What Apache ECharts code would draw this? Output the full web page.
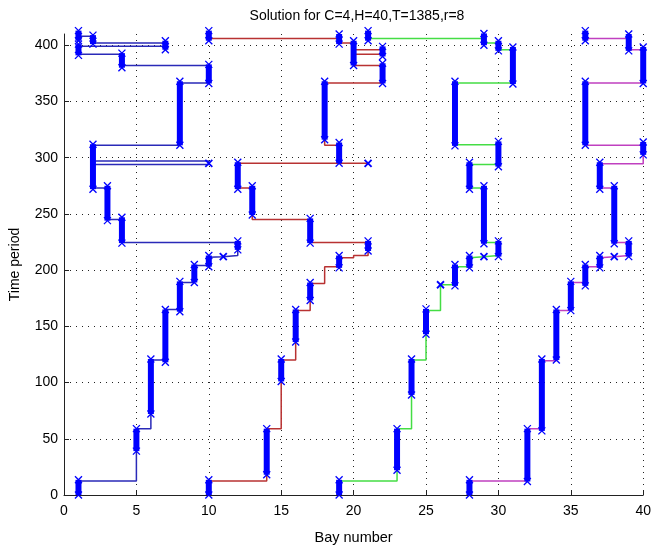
<!DOCTYPE html>
<html>
<head>
<meta charset="utf-8">
<script src="https://cdn.jsdelivr.net/npm/echarts@6/dist/echarts.min.js"></script>
<style>html,body{margin:0;padding:0;background:#fff}#c{width:654px;height:550px}</style>
</head>
<body>
<div id="c"></div>
<script>
// ---- Data (bay number, time period) ----
const titleText = 'Solution for C=4,H=40,T=1385,r=8';
const xTicks = [0, 5, 10, 15, 20, 25, 30, 35, 40];
const yTicks = [0, 50, 100, 150, 200, 250, 300, 350, 400];

// Crane 1 (blue)
const crane1Path = [[1,0],[1,12.5],[5,12.5],[5,39],[5,59],[6,59],[6,72],[6,120],[7,120],[7,165],[8,165],[8,189],[9,189],[9,204],[10,204],[10,211.5],[11,212],[12,213],[12,218],[12,224.5],[4,224.5],[4,245],[3,245],[3,273],[2,273],[2,294],[10,294],[10,297],[2,297],[2,311],[8,311],[8,366.5],[10,366.5],[10,382],[4,382],[4,392],[1,392],[1,399],[7,399],[7,402],[2,402],[2,408],[1,408],[1,413]];
const crane1Bars = [[1,0,13.5],[5,39,59],[6,72,121],[7,118,165],[8,163,190],[9,189,205],[10,203,213],[12,218,226],[4,224,247],[3,244,275],[2,272,312],[8,311,368],[10,366,383],[4,380,393],[1,391,401],[7,396,404],[2,401,409],[1,404,413]];
const crane1Cross = [[11,212],[10,295]];

// Crane 2 (red)
const crane2Path = [[10,0],[10,12.5],[14,12.5],[14,59],[15,59],[15,120],[16,120],[16,164],[17,164],[17,188],[18,188],[18,203],[19,203],[19,211],[20,211],[20,213],[21,213],[21,224.5],[17,224.5],[17,245],[13,245],[13,273],[12,273],[12,295],[21,295],[19,295],[19,311],[18,311],[18,366.5],[22,366.5],[22,382],[20,382],[20,392],[22,392],[22,396],[20,396],[20,402],[19,402],[19,406],[10,406],[10,413]];
const crane2Bars = [[10,0,13.5],[14,18,59],[15,101,121],[16,136,165],[17,173,189],[19,202,213],[21,217,226],[17,224,246],[13,249,275],[12,272,296],[19,295,313.5],[18,316,368],[22,366,384],[20,382,404],[22,390,399],[19,401,410],[10,404,413]];
const crane2Cross = [[21,295]];

// Crane 3 (green)
const crane3Path = [[19,0],[19,12.5],[23,12.5],[23,59],[24,59],[24,120],[25,120],[25,164],[26,164],[26,187],[27,187],[27,203],[28,203],[28,211],[29,212],[30,213],[30,224.5],[29,224.5],[29,273],[28,273],[28,294],[30,294],[30,311.5],[27,311.5],[27,366.5],[31,366.5],[31,396],[30,396],[30,402],[29,402],[29,406],[21,406],[21,413]];
const crane3Bars = [[19,0,13.5],[23,22,59],[24,89,121],[25,143,165.5],[27,186,205],[28,202,213],[30,212,226],[29,223.5,275],[28,272,296],[30,292,314.5],[27,310.5,368],[31,365.5,398.5],[30,395,404],[29,400,410.5],[21,404,413]];
const crane3Cross = [[26,187],[29,212]];

// Crane 4 (magenta)
const crane4Path = [[28,0],[28,12.5],[32,12.5],[32,59],[33,59],[33,119.5],[34,119.5],[34,164],[35,164],[35,189],[36,189],[36,203],[37,203],[37,211],[38,212],[39,213],[39,224.5],[38,224.5],[38,273],[37,273],[37,294.5],[40,294.5],[40,311],[36,311],[36,366.5],[40,366.5],[40,396],[39,396],[39,406],[36,406],[36,413]];
const crane4Bars = [[28,0,13.5],[32,12,59],[33,57,121],[34,120,165],[35,164,190],[36,186,205],[37,202,213],[39,212,226],[38,223.5,275],[37,272,296],[40,302.5,314],[36,311,368],[40,366,398.5],[39,395,410],[36,404,413]];
const crane4Cross = [[38,212]];

const pathColors = ['#2a2ab8', '#b83232', '#44dd44', '#c040c0'];
const barColor = '#0000ff';
const FONT = '"Liberation Sans", Arial, sans-serif';

const paths = [crane1Path, crane2Path, crane3Path, crane4Path];
const barsAll = [].concat(crane1Bars, crane2Bars, crane3Bars, crane4Bars);
const crossAll = [].concat(crane1Cross, crane2Cross, crane3Cross, crane4Cross);

function xMark(p, m, lw) {
  return [
    {type:'line', shape:{x1:p[0]-m, y1:p[1]-m, x2:p[0]+m, y2:p[1]+m}, style:{stroke:barColor, lineWidth:lw}},
    {type:'line', shape:{x1:p[0]-m, y1:p[1]+m, x2:p[0]+m, y2:p[1]-m}, style:{stroke:barColor, lineWidth:lw}}
  ];
}

function renderBar(params, api) {
  const x = api.value(0), t0 = api.value(1), t1 = api.value(2);
  const p0 = api.coord([x, t0]);
  const p1 = api.coord([x, t1]);
  const w = 6;
  const children = [
    {type:'rect', shape:{x:p0[0]-w/2, y:p1[1], width:w, height:p0[1]-p1[1]}, style:{fill:barColor}}
  ].concat(xMark(p0, 3.5, 1.3), xMark(p1, 3.5, 1.3));
  return {type:'group', children: children};
}

function renderCross(params, api) {
  const p = api.coord([api.value(0), api.value(1)]);
  return {type:'group', children: xMark(p, 3.5, 1.8)};
}

const series = paths.map((d, i) => ({
  type:'line', data:d, showSymbol:false, symbol:'none', z:2,
  lineStyle:{color:pathColors[i], width:1.5}, animation:false, clip:false
}));
series.push({
  type:'custom', data:barsAll, renderItem:renderBar, encode:{x:0, y:[1,2]}, z:3, clip:false, animation:false
});
series.push({
  type:'custom', data:crossAll, renderItem:renderCross, encode:{x:0, y:1}, z:4, clip:false, animation:false
});

const chart = echarts.init(document.getElementById('c'), null, {renderer:'canvas'});
chart.setOption({
  backgroundColor:'#fff',
  animation:false,
  title:{text:titleText, left:352, textAlign:'center', top:4,
    textStyle:{fontFamily:FONT, fontSize:14, fontWeight:'normal', color:'#000'}},
  grid:{left:61, right:3, top:34, bottom:53, containLabel:false},
  xAxis:{
    type:'value', min:0, max:40, interval:5,
    name:'Bay number', nameLocation:'middle', nameGap:35,
    nameTextStyle:{fontFamily:FONT, fontSize:14.5, color:'#000'},
    axisLine:{show:true, lineStyle:{color:'#222', width:1}},
    axisTick:{show:true, inside:true, length:5, lineStyle:{color:'#222'}, customValues:xTicks},
    axisLabel:{fontFamily:FONT, fontSize:14, color:'#000', margin:9, customValues:xTicks},
    splitLine:{show:true, lineStyle:{color:'#222', type:[1,5], width:1}}
  },
  yAxis:{
    type:'value', min:0, max:410, interval:50,
    name:'Time period', nameLocation:'middle', nameGap:42, nameRotate:90,
    nameTextStyle:{fontFamily:FONT, fontSize:14, color:'#000'},
    axisLine:{show:true, lineStyle:{color:'#222', width:1}},
    axisTick:{show:true, inside:true, length:5, lineStyle:{color:'#222'}, customValues:yTicks},
    axisLabel:{fontFamily:FONT, fontSize:14, color:'#000', margin:6, customValues:yTicks},
    splitLine:{show:true, lineStyle:{color:'#222', type:[1,5], width:1}}
  },
  series: series
});
</script>
</body>
</html>
